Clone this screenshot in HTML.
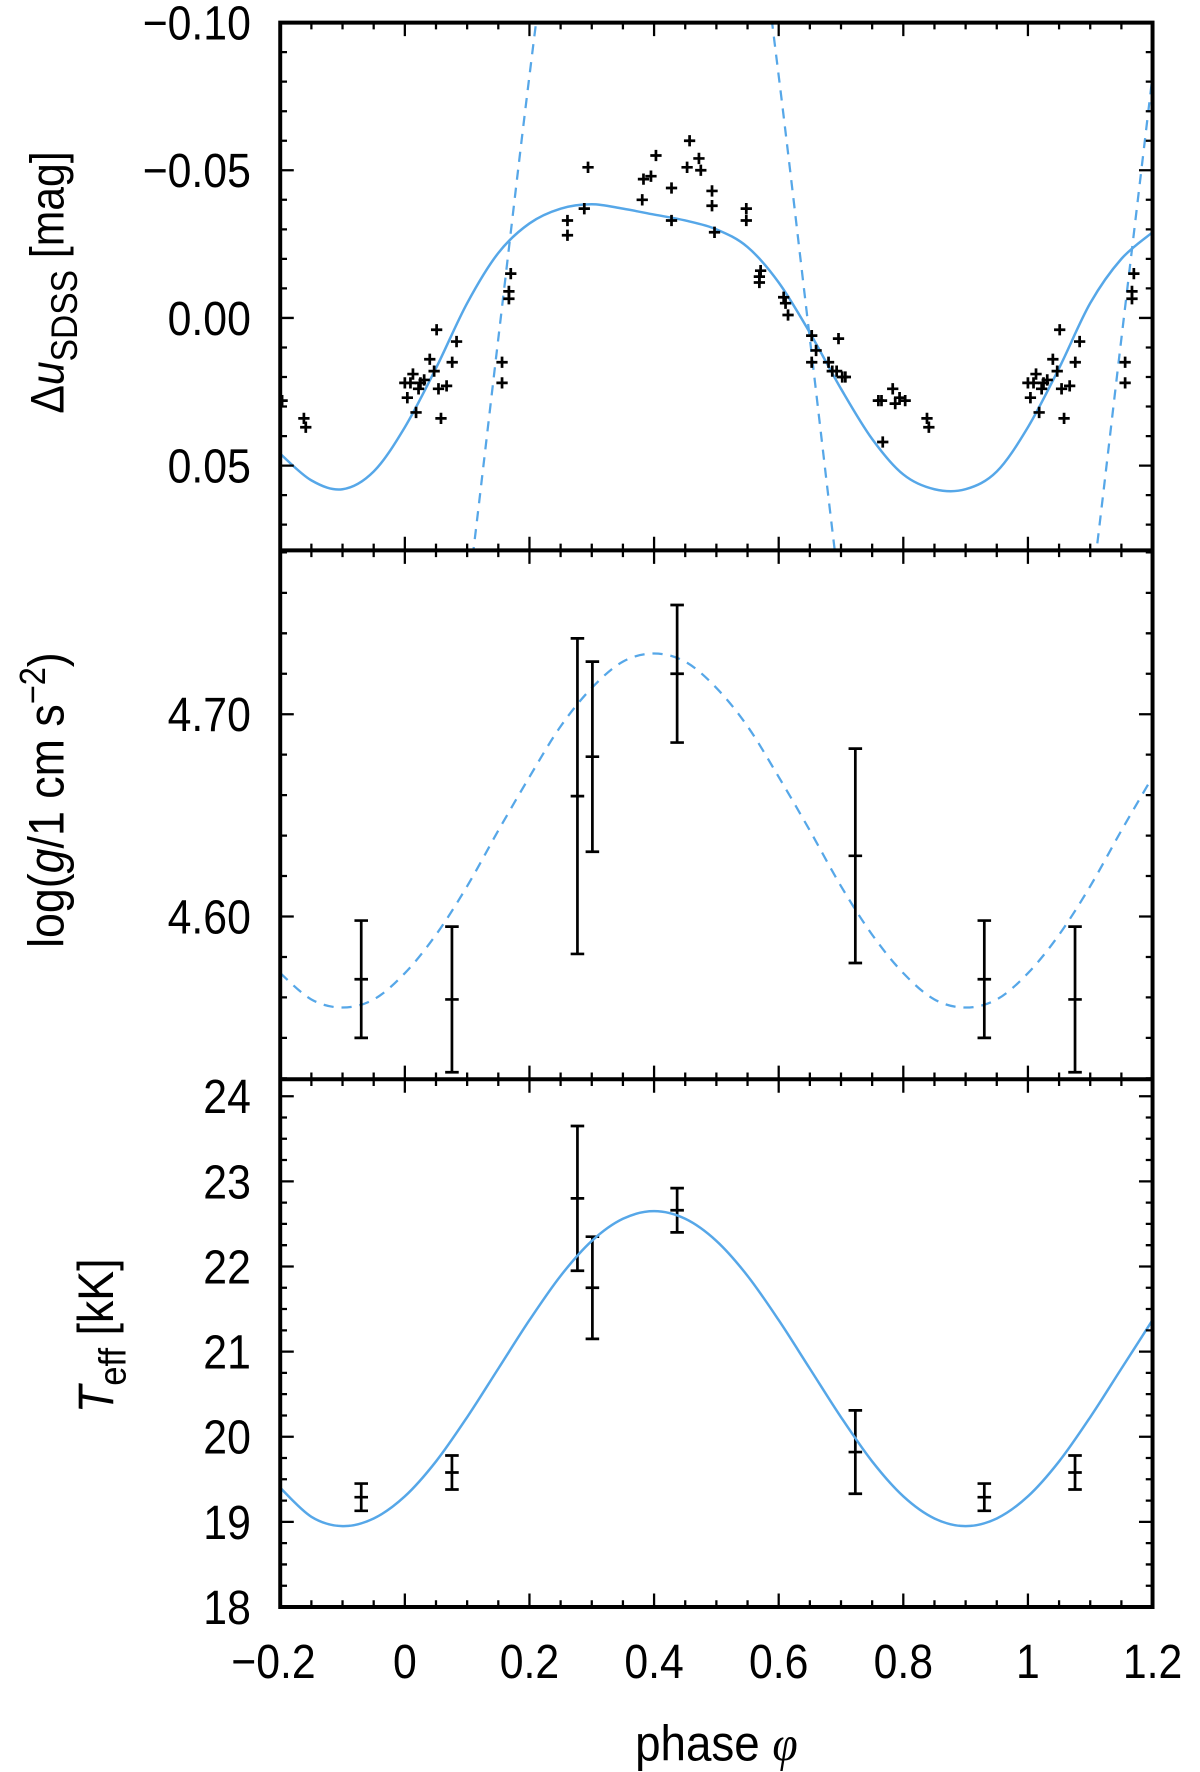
<!DOCTYPE html>
<html><head><meta charset="utf-8">
<style>
html,body{margin:0;padding:0;background:#fff;}
svg{display:block;}
text{font-family:"Liberation Sans",Arial,sans-serif;fill:#000;}
</style></head>
<body>
<svg id="chart" xmlns="http://www.w3.org/2000/svg" width="1200" height="1772" viewBox="0 0 1062 1568" preserveAspectRatio="none">
<defs>
<clipPath id="cp1"><rect x="248" y="20" width="772" height="467"/></clipPath>
<clipPath id="cp2"><rect x="248" y="487" width="772" height="468"/></clipPath>
<clipPath id="cp3"><rect x="248" y="955" width="772" height="467"/></clipPath>
</defs>
<g id="g-top"></g>
<g id="g-mid"></g>
<g id="g-bot"></g>
<g id="g-axes"></g>
<text transform="translate(56,250) rotate(-90) scale(0.9,1)" x="0" y="0" font-size="42" text-anchor="middle">Δ<tspan font-style="italic">u</tspan><tspan font-size="33" dy="12">SDSS</tspan><tspan dy="-12"> [mag]</tspan></text>
<text transform="translate(56,708) rotate(-90) scale(0.9,1)" x="0" y="0" font-size="44" text-anchor="middle">log(<tspan font-style="italic">g</tspan>/1 cm s<tspan font-size="32" dy="-16">−2</tspan><tspan dy="16">)</tspan></text>
<text transform="translate(100,1182) rotate(-90) scale(0.9,1)" x="0" y="0" font-size="44" text-anchor="middle"><tspan font-style="italic">T</tspan><tspan font-size="34" dy="11">eff</tspan><tspan dy="-11"> [kK]</tspan></text>
<text transform="translate(634,1558) scale(0.92,1)" x="0" y="0" font-size="44" text-anchor="middle">phase <tspan font-style="italic" font-family="Liberation Serif, serif">φ</tspan></text>
</svg>
<script>
// ---- data ----
const curvePhases = [-0.2,-0.15,-0.1,-0.05,0,0.05,0.1,0.15,0.2,0.25,0.3,0.35,0.4,0.45,0.5,0.55,0.6,0.65,0.7,0.75,0.8,0.85,0.9,0.95,1.0,1.05,1.1,1.15,1.2];
const magModel = [0.046,0.055,0.058,0.052,0.037,0.017,-0.005,-0.022,-0.032,-0.037,-0.0385,-0.037,-0.035,-0.033,-0.030,-0.024,-0.012,0.005,0.024,0.041,0.053,0.058,0.058,0.052,0.037,0.017,-0.005,-0.020,-0.029];
const magDashed = [0.240,0.280,0.295,0.280,0.240,0.176,0.096,0.007,-0.082,-0.163,-0.226,-0.267,-0.281,-0.267,-0.226,-0.163,-0.082,0.007,0.096,0.176,0.240,0.280,0.295,0.280,0.240,0.176,0.096,0.007,-0.082];
const loggModel = [4.572,4.559,4.555,4.559,4.572,4.591,4.615,4.6425,4.669,4.694,4.713,4.726,4.730,4.726,4.713,4.694,4.669,4.6425,4.615,4.591,4.572,4.559,4.555,4.559,4.572,4.591,4.615,4.6425,4.669];
const teffModel = [19.40,19.06,18.95,19.04,19.30,19.71,20.23,20.80,21.37,21.89,22.30,22.56,22.65,22.56,22.30,21.89,21.37,20.80,20.23,19.71,19.30,19.04,18.95,19.04,19.30,19.71,20.23,20.80,21.37];
const photPhase = [0.000,0.004,0.013,0.018,0.022,0.025,0.009,0.031,0.040,0.047,0.051,0.054,0.058,0.067,0.076,0.083,0.156,0.156,0.167,0.167,0.170,0.261,0.261,0.288,0.294,0.381,0.383,0.395,0.428,0.403,0.428,0.453,0.457,0.472,0.475,0.493,0.493,0.497,0.548,0.548,0.569,0.571,0.569,0.608,0.611,0.615,0.653,0.653,0.660,0.680,0.686,0.693,0.696,0.702,0.707,0.760,0.765,0.783,0.787,0.767,0.794,0.803,0.838,0.841];
const photMag = [0.022,0.027,0.019,0.032,0.024,0.022,0.022,0.021,0.014,0.018,0.004,0.024,0.034,0.023,0.015,0.008,0.015,0.022,-0.009,-0.0065,-0.015,-0.028,-0.033,-0.037,-0.051,-0.040,-0.047,-0.048,-0.044,-0.055,-0.033,-0.051,-0.060,-0.054,-0.050,-0.043,-0.038,-0.029,-0.037,-0.033,-0.014,-0.016,-0.012,-0.007,-0.005,-0.001,0.006,0.015,0.011,0.015,0.018,0.018,0.007,0.020,0.020,0.028,0.028,0.024,0.029,0.042,0.027,0.028,0.034,0.037];
const specPhase = [0.0756,0.277,0.301,0.437,0.723,0.930];
const loggVal = [4.559,4.6595,4.679,4.720,4.630,4.569];
const loggErr = [0.036,0.078,0.047,0.034,0.053,0.029];
const teffVal = [19.58,22.80,21.75,22.66,19.82,19.29];
const teffErr = [0.20,0.85,0.60,0.26,0.49,0.16];
const xTicks = [-0.2,0,0.2,0.4,0.6,0.8,1,1.2];
const xTickLabels = ["−0.2","0","0.2","0.4","0.6","0.8","1","1.2"];
const magTicks = [-0.10,-0.05,0.00,0.05];
const magTickLabels = ["−0.10","−0.05","0.00","0.05"];
const loggTicks = [4.60,4.70];
const loggTickLabels = ["4.60","4.70"];
const teffTicks = [18,19,20,21,22,23,24];
const teffTickLabels = ["18","19","20","21","22","23","24"];

// ---- scales ----
const NS="http://www.w3.org/2000/svg";
const L=248,R=1020;
const X=p=>L+(p+0.2)*(R-L)/1.4;
const Ymag=v=>20+(v+0.10)*(412-20)/0.15;
const Ylog=v=>811-(v-4.60)*(811-632)/0.10;
const Yteff=v=>1422-(v-18)*(1422-970)/6;
const BLUE="#56a7e8";
function mk(tag,attrs,parent){const e=document.createElementNS(NS,tag);for(const k in attrs)e.setAttribute(k,attrs[k]);parent.appendChild(e);return e;}
function spline(xs,ys){let d=`M${xs[0]},${ys[0]}`;for(let i=0;i<xs.length-1;i++){const x0=xs[Math.max(i-1,0)],y0=ys[Math.max(i-1,0)],x1=xs[i],y1=ys[i],x2=xs[i+1],y2=ys[i+1],x3=xs[Math.min(i+2,xs.length-1)],y3=ys[Math.min(i+2,ys.length-1)];d+=` C${x1+(x2-x0)/6},${y1+(y2-y0)/6} ${x2-(x3-x1)/6},${y2-(y3-y1)/6} ${x2},${y2}`;}return d;}
const gT=document.getElementById('g-top'),gM=document.getElementById('g-mid'),gB=document.getElementById('g-bot'),gA=document.getElementById('g-axes');
const xs=curvePhases.map(X);

// top panel
const cT=mk('g',{'clip-path':'url(#cp1)'},gT);
let p=mk('path',{d:spline(xs,magModel.map(Ymag)),fill:'none',stroke:BLUE,'stroke-width':2.2},cT);


p=mk('path',{d:spline(xs,magDashed.map(Ymag)),fill:'none',stroke:BLUE,'stroke-width':2,'stroke-dasharray':'9,7'},cT);


photPhase.forEach((ph,i)=>{[ph-1,ph,ph+1].forEach(q=>{if(q<-0.205||q>1.2)return;const cx=X(q),cy=Ymag(photMag[i]);
const m=mk('path',{d:`M${cx-5},${cy}H${cx+5}M${cx},${cy-5}V${cy+5}`,stroke:'#000','stroke-width':2.4},cT);

});});

// middle panel
const cM=mk('g',{'clip-path':'url(#cp2)'},gM);
p=mk('path',{d:spline(xs,loggModel.map(Ylog)),fill:'none',stroke:BLUE,'stroke-width':2,'stroke-dasharray':'9,7'},cM);


function errbar(parent,q,v,e,Y,name){const cx=X(q),t=Y(v+e),b=Y(v-e),c=Y(v);
const m=mk('path',{d:`M${cx},${t}V${b}M${cx-6},${t}H${cx+6}M${cx-6},${b}H${cx+6}M${cx-6},${c}H${cx+6}`,stroke:'#000','stroke-width':2.4,fill:'none'},parent);

}
specPhase.forEach((ph,i)=>{[ph-1,ph,ph+1].forEach(q=>{if(q<-0.2||q>1.2)return;errbar(cM,q,loggVal[i],loggErr[i],Ylog,'logg-errorbar');errbar(gB,q,teffVal[i],teffErr[i],Yteff,'teff-errorbar');});});

// bottom panel
const cB=mk('g',{'clip-path':'url(#cp3)'},gB);
p=mk('path',{d:spline(xs,teffModel.map(Yteff)),fill:'none',stroke:BLUE,'stroke-width':2.2},cB);



// axes & ticks
function tickPath(d){const t=mk('path',{d:d,stroke:'#000','stroke-width':2,fill:'none'},gA);}
const panels=[[20,487],[487,955],[955,1422]];
let d='';
panels.forEach(([t,b])=>{for(let k=0;k<=28;k++){const q=-0.2+k*0.05,x=X(q),len=(k%4===0)?12:6;d+=`M${x},${b}v${-len}M${x},${t}v${len}`;}});
for(let k=0;k<=17;k++){const v=-0.10+k*0.01;const y=Ymag(v);if(y<20||y>487)continue;const len=(k%5===0)?12:6;d+=`M${L},${y}h${len}M${R},${y}h${-len}`;}
for(let k=-5;k<=14;k++){const v=4.50+k*0.02+0.10;const y=Ylog(v);if(y<=487||y>=955)continue;const len=(Math.abs(Math.round(v*100))%10===0)?12:6;d+=`M${L},${y}h${len}M${R},${y}h${-len}`;}
for(let k=0;k<=24;k++){const v=18+k*0.25;const y=Yteff(v);const len=(k%4===0)?12:6;d+=`M${L},${y}h${len}M${R},${y}h${-len}`;}
tickPath(d);
const fr=mk('path',{d:`M${L},20H${R}V1422H${L}ZM${L},487H${R}M${L},955H${R}`,stroke:'#000','stroke-width':3.5,fill:'none'},gA);


function label(x,y,txt,anchor,name){const t=mk('text',{x:0,y:0,'font-size':43,'text-anchor':anchor,transform:`translate(${x},${y}) scale(0.88,1)`},gA);t.textContent=txt;}
xTicks.forEach((v,i)=>label(X(v)+(i===0?-6:0),1485,xTickLabels[i],'middle','x-tick-label'));
magTicks.forEach((v,i)=>label(222,Ymag(v)+15,magTickLabels[i],'end','y-tick-label-mag'));
loggTicks.forEach((v,i)=>label(222,Ylog(v)+15,loggTickLabels[i],'end','y-tick-label-logg'));
teffTicks.forEach((v,i)=>label(222,Yteff(v)+15,teffTickLabels[i],'end','y-tick-label-teff'));
</script>
</body></html>
